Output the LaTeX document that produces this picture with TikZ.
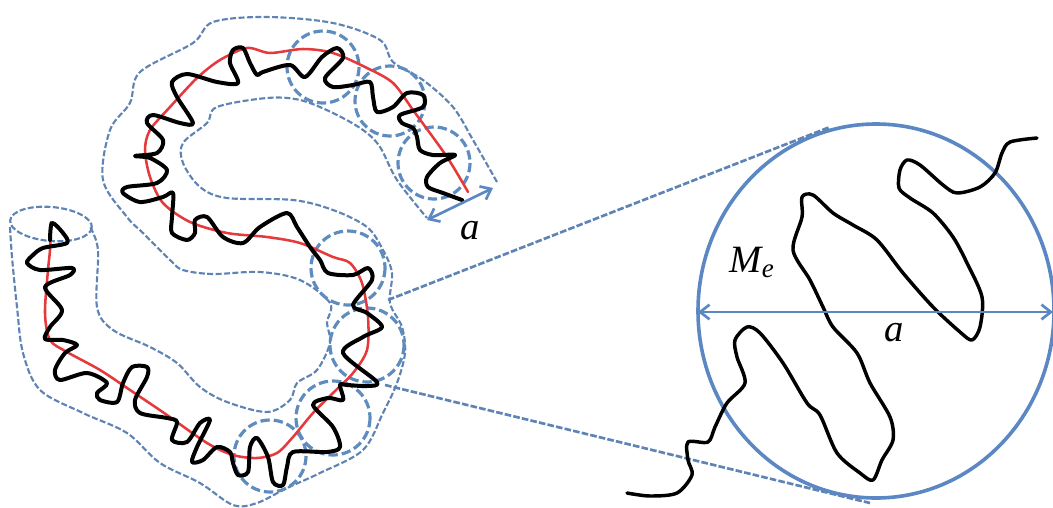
\documentclass[tikz,border=0pt]{standalone}
\usepackage{fontspec}
\setmainfont{Liberation Serif}
\usetikzlibrary{arrows.meta}
\definecolor{thinblue}{HTML}{5F84B4}
\definecolor{ringblue}{HTML}{5F8CBF}
\definecolor{bigblue}{HTML}{5B87C2}
\definecolor{chainred}{HTML}{E5393C}
\tikzset{
  outline/.style={draw=thinblue,line width=1.6pt,dash pattern=on 4.5pt off 1.8pt,line join=round},
  ring/.style={draw=ringblue,line width=2.4pt,dash pattern=on 7pt off 3pt},
  redchain/.style={draw=chainred,line width=1.9pt,line cap=round},
  blackchain/.style={draw=black,line width=3pt,line cap=round,line join=round},
  blackfine/.style={draw=black,line width=2.6pt,line cap=round,line join=round},
  dimarrow/.style={draw=bigblue,line width=2pt,{Straight Barb[length=7pt,width=11pt]}-{Straight Barb[length=7pt,width=11pt]}},
  bigring/.style={draw=bigblue,line width=2.7pt},
  zoomline/.style={draw=thinblue,line width=2pt,dash pattern=on 5pt off 1.6pt},
  lab/.style={inner sep=0pt,font=\fontsize{29}{30}\selectfont\itshape},
}
\begin{document}
\begin{tikzpicture}[x=0.75pt,y=-0.75pt]
\useasboundingbox (0,0) rectangle (1053,507);
% outline tube
\draw[outline] plot[smooth,tension=0.55] coordinates {(10,227)(12,257)(17,307)(23,353)(40,390)(83,413)(127,433)(160,463)(200,483)(233,505)(257,503)(287,488)(320,473)(363,450)(383,413)(397,383)(405,353)(402,327)(390,303)(392,273)(383,250)(367,227)(333,210)(293,200)(227,198)(200,187)(183,163)(183,143)(207,123)(217,107)(267,98)(300,100)(333,113)(363,130)(380,147)(397,180)(427,218)};
\draw[outline] plot[smooth,tension=0.55] coordinates {(497,182)(473,140)(453,107)(423,80)(393,62)(380,40)(333,23)(267,17)(213,22)(193,43)(140,72)(130,103)(110,130)(103,180)(127,217)(143,233)(170,260)(183,270)(213,274)(260,272)(300,280)(330,303)(327,323)(330,343)(317,370)(297,383)(290,400)(267,412)(227,402)(200,387)(177,363)(150,347)(113,330)(97,307)(98,250)(90,227)};
\draw[outline,rotate around={-5:(51,224)}] (51,224) ellipse [x radius=41,y radius=17];
% entanglement rings
\draw[ring] (323,67) circle [radius=36];
\draw[ring] (390,101) circle [radius=35];
\draw[ring] (434,163) circle [radius=36];
\draw[ring] (348,268) circle [radius=37];
\draw[ring] (367,345) circle [radius=37];
\draw[ring] (333,418) circle [radius=37];
\draw[ring] (270,456) circle [radius=36];
% red primitive path
\draw[redchain] plot[smooth,tension=0.5] coordinates {(468,192)(447,157)(413,110)(393,83)(367,68)(333,53)(303,49)(270,53)(247,48)(220,60)(197,78)(170,107)(150,130)(145,150)(150,177)(163,203)(190,222)(227,233)(267,237)(300,243)(333,257)(350,263)(362,283)(368,317)(367,350)(353,373)(333,393)(313,413)(293,437)(277,453)(257,458)(233,455)(207,443)(167,415)(133,392)(100,370)(67,352)(50,340)(45,313)(48,270)(50,250)(51,222)};
% black chain
\draw[blackchain] plot[smooth,tension=0.5] coordinates {(462,200)(443,193)(428,187)(427,177)(440,163)(455,155)(433,155)(420,150)(417,137)(413,128)(402,123)(400,115)(423,107)(423,95)(407,93)(393,107)(377,112)(373,97)(370,82)(353,85)(333,87)(325,78)(343,58)(337,48)(322,57)(305,77)(290,65)(263,72)(257,75)(250,63)(243,48)(233,50)(230,63)(238,83)(217,82)(187,74)(172,82)(177,97)(193,123)(180,123)(153,115)(147,123)(163,140)(157,153)(135,156)(150,158)(167,170)(157,183)(127,187)(123,193)(140,202)(163,197)(173,193)(172,217)(172,233)(187,240)(195,233)(195,220)(207,217)(223,237)(243,243)(260,227)(287,213)(297,227)(310,247)(320,260)(328,273)(353,275)(368,268)(372,280)(353,305)(367,313)(382,327)(363,337)(343,353)(377,382)(367,386)(347,385)(340,385)(343,400)(328,398)(313,405)(333,427)(340,447)(327,452)(293,452)(287,467)(283,485)(273,482)(268,457)(257,438)(250,447)(248,472)(238,475)(233,463)(230,452)(217,447)(203,460)(192,462)(197,447)(210,420)(200,423)(187,442)(172,440)(177,422)(167,418)(140,413)(135,400)(147,377)(147,367)(132,367)(123,383)(117,402)(100,400)(97,393)(107,383)(87,373)(60,380)(55,370)(65,353)(77,345)(63,340)(45,339)(50,327)(62,310)(45,287)(70,275)(72,268)(40,270)(27,263)(33,255)(43,248)(67,243)(63,233)(52,223)(50,240)};
% tube-width arrow
\coordinate (aL) at (427,220);
\coordinate (aR) at (493,188);
\draw[dimarrow] (aL) -- (aR);
\node[lab] (alabel) at (470,231) {a};
% zoom lines
\coordinate (zt0) at (388,300);
\coordinate (zt1) at (830,127);
\coordinate (zb0) at (385,385);
\coordinate (zb1) at (870,503);
\draw[zoomline] (zt0) -- (zt1);
\draw[zoomline] (zb0) -- (zb1);
% magnified view
\draw[bigring] (876,311) ellipse [x radius=178,y radius=187];
\draw[blackfine] plot[smooth,tension=0.5] coordinates {(1037,138)(1010,142)(1002,153)(995,173)(980,187)(957,193)(943,185)(920,165)(907,160)(900,170)(899,188)(910,198)(933,213)(953,237)(967,263)(982,297)(980,327)(972,340)(960,332)(933,307)(903,273)(877,240)(853,225)(833,213)(813,195)(802,197)(802,217)(793,250)(810,280)(823,307)(833,327)(857,353)(870,383)(890,417)(893,440)(882,460)(873,480)(860,473)(837,453)(820,415)(807,403)(783,363)(760,333)(747,327)(735,340)(737,357)(745,383)(727,403)(715,427)(708,442)(688,442)(688,460)(692,475)(677,493)(650,496)(627,493)};
\coordinate (dL) at (698,312);
\coordinate (dR) at (1053,312);
\draw[dimarrow] (dL) -- (dR);
\node[lab] (melabel) at (752,262) {M\textsubscript{e}};
\node[lab] (a2label) at (894,333) {a};
\end{tikzpicture}
\end{document}
